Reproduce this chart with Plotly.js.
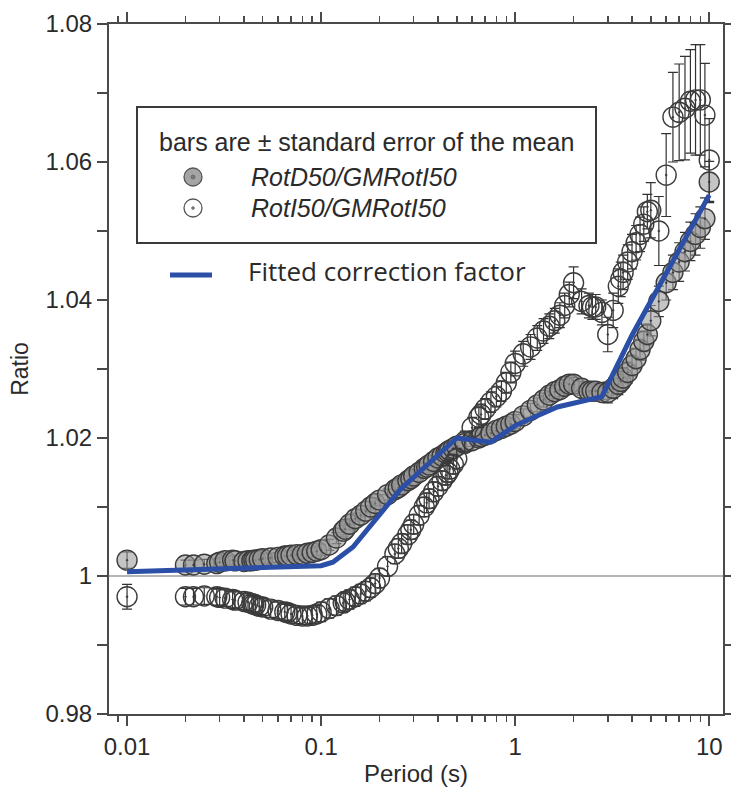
<!DOCTYPE html>
<html>
<head>
<meta charset="utf-8">
<script src="https://cdn.plot.ly/plotly-3.0.1.min.js"></script>
<style>
  html, body { margin: 0; padding: 0; background: #fff; }
  #chart { width: 731px; height: 802px; }
</style>
</head>
<body>
<div id="chart"></div>
<script>
// Oscillator periods (s)
const periods = [
  0.01, 0.02, 0.022, 0.025, 0.029, 0.03, 0.032, 0.035, 0.036, 0.04, 0.042, 0.044, 0.045,
  0.046, 0.048, 0.05, 0.055, 0.06, 0.065, 0.067, 0.07, 0.075, 0.08, 0.085, 0.09, 0.095,
  0.1, 0.11, 0.12, 0.13, 0.133, 0.14, 0.15, 0.16, 0.17, 0.18, 0.19, 0.2, 0.22, 0.24, 0.25,
  0.26, 0.28, 0.29, 0.3, 0.32, 0.34, 0.35, 0.36, 0.38, 0.4, 0.42, 0.44, 0.45, 0.46, 0.48,
  0.5, 0.55, 0.6, 0.65, 0.667, 0.7, 0.75, 0.8, 0.85, 0.9, 0.95,
  1, 1.1, 1.2, 1.3, 1.4, 1.5, 1.6, 1.7, 1.8, 1.9, 2, 2.2, 2.4, 2.5, 2.6, 2.8,
  3, 3.2, 3.4, 3.5, 3.6, 3.8, 4, 4.2, 4.4, 4.6, 4.8,
  5, 5.5, 6, 6.5, 7, 7.5, 8, 8.5, 9, 9.5, 10
];

// RotD50/GMRotI50 mean ratio
const rotD50 = [
  1.0023, 1.0016, 1.0016, 1.0017, 1.0018, 1.0020, 1.0022, 1.0023, 1.0022, 1.0021, 1.0022, 1.0022, 1.0023,
  1.0023, 1.0024, 1.0025, 1.0026, 1.0027, 1.0029, 1.0029, 1.0030, 1.0031, 1.0031, 1.0033, 1.0034, 1.0036,
  1.0038, 1.0045, 1.0055, 1.0065, 1.0068, 1.0075, 1.0083, 1.0088, 1.0094, 1.0100, 1.0105, 1.0110, 1.0118, 1.0125, 1.0128,
  1.0132, 1.0138, 1.0141, 1.0145, 1.0150, 1.0156, 1.0158, 1.0161, 1.0166, 1.0171, 1.0174, 1.0178, 1.0180, 1.0182, 1.0185,
  1.0188, 1.0192, 1.0196, 1.0200, 1.0202, 1.0204, 1.0207, 1.0211, 1.0214, 1.0217, 1.0220,
  1.0224, 1.0232, 1.0240, 1.0248, 1.0255, 1.0262, 1.0267, 1.0270, 1.0275, 1.0278, 1.0278, 1.0272, 1.0268, 1.0268, 1.0268, 1.0266,
  1.0266, 1.0272, 1.0278, 1.0282, 1.0287, 1.0295, 1.0305, 1.0315, 1.0328, 1.0340, 1.0350,
  1.0370, 1.0398, 1.0425, 1.0440, 1.0455, 1.0470, 1.0485, 1.0495, 1.0505, 1.0518, 1.0571
];
// standard error of the mean, RotD50/GMRotI50
const rotD50Err = [
  0.0012, 0.0007, 0.0007, 0.0007, 0.0007, 0.0007, 0.0007, 0.0007, 0.0007, 0.0007, 0.0007, 0.0007, 0.0007,
  0.0007, 0.0007, 0.0007, 0.0007, 0.0007, 0.0007, 0.0007, 0.0007, 0.0007, 0.0007, 0.0007, 0.0007, 0.0007,
  0.0008, 0.0008, 0.0008, 0.0008, 0.0008, 0.0008, 0.0008, 0.0008, 0.0008, 0.0008, 0.0008, 0.0008, 0.0008, 0.0008, 0.0008,
  0.0008, 0.0008, 0.0008, 0.0008, 0.0008, 0.0008, 0.0008, 0.0008, 0.0008, 0.0008, 0.0008, 0.0008, 0.0008, 0.0008, 0.0008,
  0.0008, 0.0008, 0.0008, 0.0008, 0.0008, 0.0008, 0.0008, 0.0008, 0.0008, 0.0008, 0.0008,
  0.0010, 0.0010, 0.0010, 0.0010, 0.0010, 0.0010, 0.0010, 0.0010, 0.0010, 0.0010, 0.0010, 0.0010, 0.0010, 0.0010, 0.0010, 0.0010,
  0.0015, 0.0015, 0.0015, 0.0015, 0.0015, 0.0015, 0.0015, 0.0015, 0.0015, 0.0015, 0.0015,
  0.0022, 0.0022, 0.0025, 0.0025, 0.0028, 0.0028, 0.0028, 0.0030, 0.0030, 0.0030, 0.0030
];

// RotI50/GMRotI50 mean ratio
const rotI50 = [
  0.9970, 0.9970, 0.9970, 0.9971, 0.9970, 0.9969, 0.9968, 0.9966, 0.9965, 0.9963, 0.9962, 0.9960, 0.9959,
  0.9958, 0.9956, 0.9955, 0.9952, 0.9950, 0.9948, 0.9947, 0.9945, 0.9943, 0.9942, 0.9942, 0.9943, 0.9945,
  0.9948, 0.9953, 0.9957, 0.9961, 0.9963, 0.9966, 0.9970, 0.9974, 0.9978, 0.9983, 0.9989, 0.9997, 1.0014, 1.0032, 1.0040,
  1.0047, 1.0060, 1.0067, 1.0075, 1.0088, 1.0100, 1.0106, 1.0112, 1.0122, 1.0130, 1.0138, 1.0146, 1.0150, 1.0155, 1.0162,
  1.0170, 1.0195, 1.0215, 1.0230, 1.0234, 1.0242, 1.0252, 1.0260, 1.0268, 1.0280, 1.0295,
  1.0308, 1.0322, 1.0332, 1.0345, 1.0355, 1.0362, 1.0370, 1.0378, 1.0392, 1.0408, 1.0425, 1.0398, 1.0392, 1.0390, 1.0390, 1.0382,
  1.0350, 1.0385, 1.0420, 1.0430, 1.0440, 1.0455, 1.0470, 1.0483, 1.0495, 1.0510, 1.0528,
  1.0530, 1.0500, 1.0581, 1.0665, 1.0672, 1.0678, 1.0688, 1.0690, 1.0690, 1.0668, 1.0603
];
// standard error of the mean, RotI50/GMRotI50
const rotI50Err = [
  0.0018, 0.0012, 0.0012, 0.0012, 0.0012, 0.0012, 0.0012, 0.0012, 0.0012, 0.0012, 0.0012, 0.0012, 0.0012,
  0.0012, 0.0012, 0.0012, 0.0012, 0.0012, 0.0012, 0.0012, 0.0012, 0.0012, 0.0012, 0.0012, 0.0012, 0.0012,
  0.0014, 0.0014, 0.0014, 0.0014, 0.0014, 0.0014, 0.0014, 0.0014, 0.0014, 0.0014, 0.0014, 0.0014, 0.0014, 0.0014, 0.0014,
  0.0014, 0.0014, 0.0014, 0.0014, 0.0014, 0.0014, 0.0014, 0.0014, 0.0014, 0.0014, 0.0014, 0.0014, 0.0014, 0.0014, 0.0014,
  0.0015, 0.0015, 0.0015, 0.0015, 0.0015, 0.0015, 0.0015, 0.0015, 0.0015, 0.0015, 0.0015,
  0.0018, 0.0018, 0.0018, 0.0018, 0.0018, 0.0018, 0.0018, 0.0018, 0.0018, 0.0018, 0.0023, 0.0018, 0.0018, 0.0018, 0.0018, 0.0018,
  0.0025, 0.0025, 0.0025, 0.0025, 0.0025, 0.0025, 0.0025, 0.0025, 0.0025, 0.0025, 0.0025,
  0.0040, 0.0050, 0.0060, 0.0065, 0.0070, 0.0075, 0.0075, 0.0080, 0.0080, 0.0075, 0.0060
];

// Fitted RotD50/GMRotI50 correction factor (piecewise in log period)
const fitPeriods = [0.01, 0.1, 0.115, 0.146, 0.255, 0.5, 0.75, 1, 1.65, 2.8, 4, 10];
const fitRatio   = [1.0006, 1.0015, 1.0020, 1.0042, 1.0125, 1.0200, 1.0194, 1.0218, 1.0245, 1.0260, 1.0349, 1.0552];

// Axis ticks
const xTickVals = [0.01, 0.1, 1, 10];
const xTickText = ['0.01', '0.1', '1', '10'];
const xMinorVals = [0.008, 0.009, 0.02, 0.03, 0.04, 0.05, 0.06, 0.07, 0.08, 0.09,
  0.2, 0.3, 0.4, 0.5, 0.6, 0.7, 0.8, 0.9, 2, 3, 4, 5, 6, 7, 8, 9];
const yTickVals = [0.98, 1.0, 1.02, 1.04, 1.06, 1.08];
const yTickText = ['0.98', '1', '1.02', '1.04', '1.06', '1.08'];
const yMinorVals = [0.99, 1.01, 1.03, 1.05, 1.07];

// Legend text
const legendHeader = 'bars are ± standard error of the mean';
const legendNames = ['RotD50/GMRotI50', 'RotI50/GMRotI50'];
const fitName = 'Fitted correction factor';

// Plot-area geometry (pixels) used to place the legend block
const W = 731, H = 802;
const M = { l: 109, r: 8, t: 24, b: 88 };
const pw = W - M.l - M.r, ph = H - M.t - M.b;
const px = x => (x - M.l) / pw;
const py = y => (H - M.b - y) / ph;

const axisColor = '#4a4a4a';
const textColor = '#2a2a2a';
const sans = 'Liberation Sans, Arial, Helvetica, sans-serif';

const filledColor = 'rgba(150,150,150,0.55)';
const edgeColor = '#3c3c3c';
const fitColor = '#2b4ea6';

const traces = [
  {
    x: periods, y: rotD50, type: 'scatter', mode: 'markers', name: legendNames[0],
    error_y: { type: 'data', array: rotD50Err, visible: true, color: '#333', thickness: 1.2, width: 5 },
    marker: { symbol: 'circle-dot', size: 20, color: filledColor, line: { color: edgeColor, width: 1.4 } },
    showlegend: false, cliponaxis: false
  },
  {
    x: periods, y: rotI50, type: 'scatter', mode: 'markers', name: legendNames[1],
    error_y: { type: 'data', array: rotI50Err, visible: true, color: '#333', thickness: 1.2, width: 5 },
    marker: { symbol: 'circle-open-dot', size: 20, color: edgeColor, line: { color: edgeColor, width: 1.4 } },
    showlegend: false, cliponaxis: false
  },
  {
    x: fitPeriods, y: fitRatio, type: 'scatter', mode: 'lines', name: fitName,
    line: { color: fitColor, width: 5 }, showlegend: false
  }
];

const shapes = [
  // reference line at ratio = 1
  { type: 'line', xref: 'paper', yref: 'y', x0: 0, x1: 1, y0: 1, y1: 1,
    line: { color: '#b4b4b4', width: 2 }, layer: 'below' },
  // legend frame
  { type: 'rect', xref: 'paper', yref: 'paper', x0: px(137), x1: px(596), y0: py(243), y1: py(107),
    line: { color: '#3a3a3a', width: 2 }, fillcolor: '#ffffff', layer: 'above' },
  // legend symbols
  { type: 'circle', xref: 'paper', yref: 'paper', xsizemode: 'pixel', ysizemode: 'pixel',
    xanchor: px(193), yanchor: py(177), x0: -9, x1: 9, y0: -9, y1: 9,
    fillcolor: 'rgb(165,165,165)', line: { color: '#555', width: 1.3 } },
  { type: 'circle', xref: 'paper', yref: 'paper', xsizemode: 'pixel', ysizemode: 'pixel',
    xanchor: px(193), yanchor: py(177), x0: -2, x1: 2, y0: -2, y1: 2,
    fillcolor: 'rgb(120,120,120)', line: { color: '#666', width: 0.8 } },
  { type: 'circle', xref: 'paper', yref: 'paper', xsizemode: 'pixel', ysizemode: 'pixel',
    xanchor: px(193), yanchor: py(208), x0: -9, x1: 9, y0: -9, y1: 9,
    fillcolor: '#fff', line: { color: '#555', width: 1.3 } },
  { type: 'circle', xref: 'paper', yref: 'paper', xsizemode: 'pixel', ysizemode: 'pixel',
    xanchor: px(193), yanchor: py(208), x0: -1.5, x1: 1.5, y0: -1.5, y1: 1.5,
    fillcolor: '#777', line: { color: '#777', width: 0.6 } },
  { type: 'line', xref: 'paper', yref: 'paper', x0: px(170), x1: px(212), y0: py(275), y1: py(275),
    line: { color: fitColor, width: 5 } }
];

const annotations = [
  { xref: 'paper', yref: 'paper', x: px(366), y: py(142), xanchor: 'center', yanchor: 'middle',
    text: legendHeader, showarrow: false, font: { family: sans, size: 25, color: textColor } },
  { xref: 'paper', yref: 'paper', x: px(249), y: py(177), xanchor: 'left', yanchor: 'middle',
    text: '<i>' + legendNames[0] + '</i>', showarrow: false, font: { family: sans, size: 25, color: textColor } },
  { xref: 'paper', yref: 'paper', x: px(249), y: py(208), xanchor: 'left', yanchor: 'middle',
    text: '<i>' + legendNames[1] + '</i>', showarrow: false, font: { family: sans, size: 25, color: textColor } },
  { xref: 'paper', yref: 'paper', x: px(246), y: py(271), xanchor: 'left', yanchor: 'middle',
    text: fitName, showarrow: false, font: { family: 'Open Sans, Noto Sans, sans-serif', size: 26, color: textColor } }
];

const layout = {
  width: W, height: H,
  margin: M,
  paper_bgcolor: '#fff', plot_bgcolor: '#fff',
  showlegend: false,
  font: { family: sans, size: 24, color: textColor },
  xaxis: {
    type: 'log', range: [-2.093, 1.071],
    tickmode: 'array', tickvals: xTickVals, ticktext: xTickText,
    ticks: 'outside', ticklen: 10, tickwidth: 1.5, tickcolor: axisColor,
    minor: { tickmode: 'array', tickvals: xMinorVals, ticks: 'outside', ticklen: 6, tickwidth: 1.5, tickcolor: axisColor, showgrid: false },
    showline: true, linecolor: axisColor, linewidth: 2, mirror: 'ticks',
    showgrid: false, zeroline: false,
    tickfont: { family: sans, size: 24, color: textColor },
    title: { text: 'Period (s)', font: { family: sans, size: 24, color: textColor }, standoff: 6 }
  },
  yaxis: {
    range: [0.98, 1.08],
    tickmode: 'array', tickvals: yTickVals, ticktext: yTickText,
    ticks: 'outside', ticklen: 10, tickwidth: 1.5, tickcolor: axisColor,
    minor: { tickmode: 'array', tickvals: yMinorVals, ticks: 'outside', ticklen: 10, tickwidth: 1.5, tickcolor: axisColor, showgrid: false },
    showline: true, linecolor: axisColor, linewidth: 2, mirror: 'ticks',
    showgrid: false, zeroline: false,
    tickfont: { family: sans, size: 24, color: textColor },
    title: { text: 'Ratio', font: { family: sans, size: 23, color: textColor }, standoff: 10 }
  },
  shapes: shapes,
  annotations: annotations
};

Plotly.newPlot('chart', traces, layout, { displayModeBar: false, staticPlot: true });
</script>
</body>
</html>
